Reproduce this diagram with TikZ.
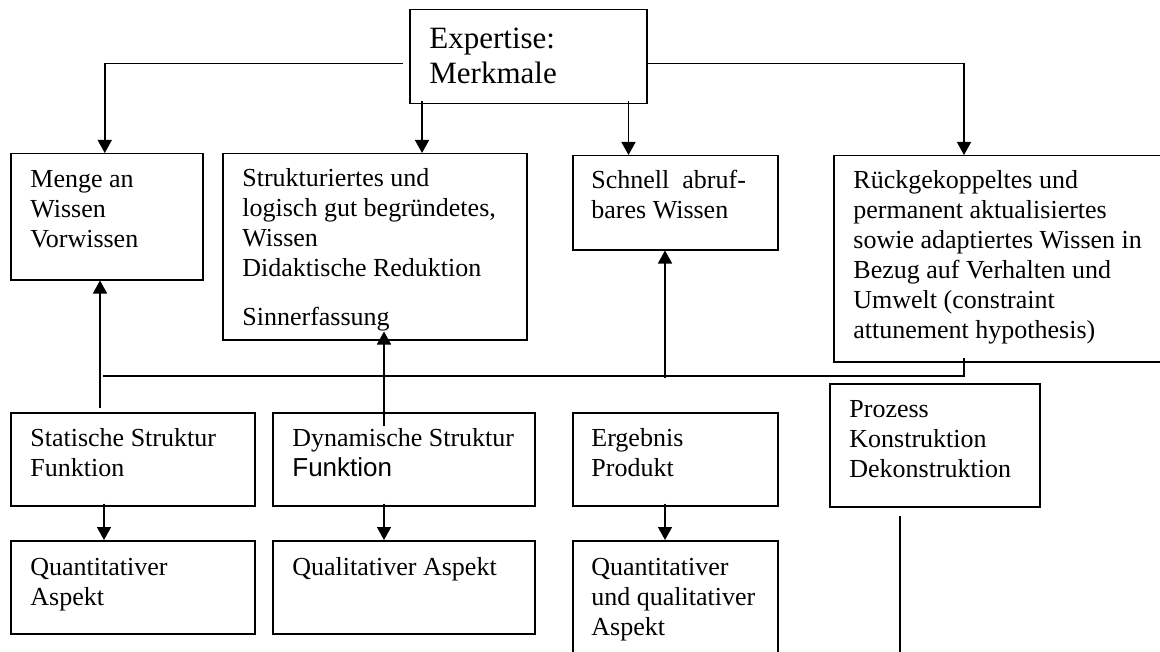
\documentclass[tikz,border=0pt]{standalone}
\usepackage{fontspec}
\setmainfont{Liberation Serif}
\newfontfamily\arialfont{Liberation Sans}
\usetikzlibrary{calc, arrows.meta}

% Stuetze fuer die erste Zeile
\newcommand{\fl}{\rule{0pt}{11pt}}
\newcommand{\flbig}{\rule{0pt}{14pt}}

\tikzset{
  wbox/.style={draw, line width=0.75pt, anchor=north west, inner sep=0pt},
  wtxt/.style={anchor=north west, inner sep=0pt, align=left,
    font=\fontsize{13}{15}\selectfont},
  arr/.style={line width=0.75pt, -{Triangle[width=7pt,length=6.5pt]}},
  ln/.style={line width=0.75pt}
}

\begin{document}
\begin{tikzpicture}[x=0.5pt, y=-0.5pt]
  \useasboundingbox (0,0) rectangle (1160,652);
  % Kopf
  \node[wbox, minimum width=118.5pt, minimum height=47pt] (expert) at (409,9) {};
  \node[wtxt, font=\fontsize{15.5}{17.5}\selectfont] (expertT) at ([shift={(20,11)}]expert.north west) {\flbig Expertise:\\Merkmale};

  % zweite Reihe
  \node[wbox, minimum width=96pt, minimum height=63pt] (menge) at (10,153) {};
  \node[wtxt] (mengeT) at ([shift={(20,12)}]menge.north west) {\fl Menge an\\Wissen\\Vorwissen};
  \node[wbox, minimum width=152pt, minimum height=93pt] (struk) at (222,153) {};
  \node[wtxt] (strukT) at ([shift={(20,11)}]struk.north west)
    {\fl Strukturiertes und\\logisch gut begründetes,\\Wissen\\Didaktische Reduktion\\[9.5pt]Sinnerfassung};
  \node[wbox, minimum width=102.5pt, minimum height=47pt] (schnell) at (572,155) {};
  \node[wtxt] (schnellT) at ([shift={(19,11)}]schnell.north west) {\fl Schnell\ \ abruf-\\bares Wissen};
  \node[wbox, minimum width=171pt, minimum height=103pt] (rueck) at (833,155) {};
  \node[wtxt] (rueckT) at ([shift={(20,11)}]rueck.north west)
    {\fl Rückgekoppeltes und\\permanent aktualisiertes\\sowie adaptiertes Wissen in\\Bezug auf Verhalten und\\Umwelt (constraint\\attunement hypothesis)};

  % dritte Reihe
  \node[wbox, minimum width=122pt, minimum height=46.5pt] (statisch) at (10,412) {};
  \node[wtxt] (statischT) at ([shift={(20,12)}]statisch.north west) {\fl Statische Struktur\\Funktion};
  \node[wbox, minimum width=131pt, minimum height=46.5pt] (dynam) at (272,412) {};
  \node[wtxt] (dynamT) at ([shift={(20,12)}]dynam.north west) {\fl Dynamische Struktur\\{\arialfont Funktion}};
  \node[wbox, minimum width=102.5pt, minimum height=46.5pt] (ergeb) at (572,412) {};
  \node[wtxt] (ergebT) at ([shift={(19,12)}]ergeb.north west) {\fl Ergebnis\\Produkt};
  \node[wbox, minimum width=105pt, minimum height=61.5pt] (prozess) at (829,383) {};
  \node[wtxt] (prozessT) at ([shift={(20,12)}]prozess.north west) {\fl Prozess\\Konstruktion\\Dekonstruktion};

  % vierte Reihe
  \node[wbox, minimum width=122pt, minimum height=46.5pt] (quant) at (10,540) {};
  \node[wtxt] (quantT) at ([shift={(20,13)}]quant.north west) {\fl Quantitativer\\Aspekt};
  \node[wbox, minimum width=131pt, minimum height=46.5pt] (qual) at (272,540) {};
  \node[wtxt] (qualT) at ([shift={(20,13)}]qual.north west) {\fl Qualitativer Aspekt};
  \node[wbox, minimum width=102.5pt, minimum height=65pt] (quantqual) at (572,540) {};
  \node[wtxt] (quantqualT) at ([shift={(19,13)}]quantqual.north west) {\fl Quantitativer\\und qualitativer\\Aspekt};

  % Pfeile vom Kopf
  \coordinate (e1) at ([shift={(13,-3)}]expert.south west);
  \coordinate (e2) at ([shift={(-19,-3)}]expert.south east);
  \draw[arr] ([shift={(-6,7)}]expert.west) -| ([shift={(-2,0)}]menge.north);
  \draw[arr] (e1) -- (e1 |- struk.north);
  \draw[arr] (e2) -- (e2 |- schnell.north);
  \draw[arr] ([shift={(0,7)}]expert.east) -| ([shift={(131,0)}]rueck.north west);

  % Rueckkopplung
  \coordinate (fb) at (103,376);
  \draw[ln] ([shift={(131,-5)}]rueck.south west) |- (fb);
  \coordinate (m1) at ([shift={(90,-4)}]statisch.north west);
  \draw[arr] (m1) -- (m1 |- menge.south);
  \coordinate (d1) at ([shift={(112,14)}]dynam.north west);
  \coordinate (d2) at (d1 |- struk.south);
  \draw[arr] (d1) -- ([shift={(0,-9)}]d2);
  \coordinate (s0) at ([shift={(93,0)}]schnell.south west);
  \draw[arr] ([shift={(0,2)}]s0 |- fb) -- (s0);

  % nach unten
  \foreach \a/\b/\dx in {statisch/quant/94, dynam/qual/112, ergeb/quantqual/93}
    \draw[arr] ([shift={(\dx,-3)}]\a.south west) -- ([shift={(\dx,0)}]\b.north west);
  \coordinate (pend) at (900,660);
  \draw[ln] ([shift={(71,8)}]prozess.south west) -- (pend);
\end{tikzpicture}
\end{document}
